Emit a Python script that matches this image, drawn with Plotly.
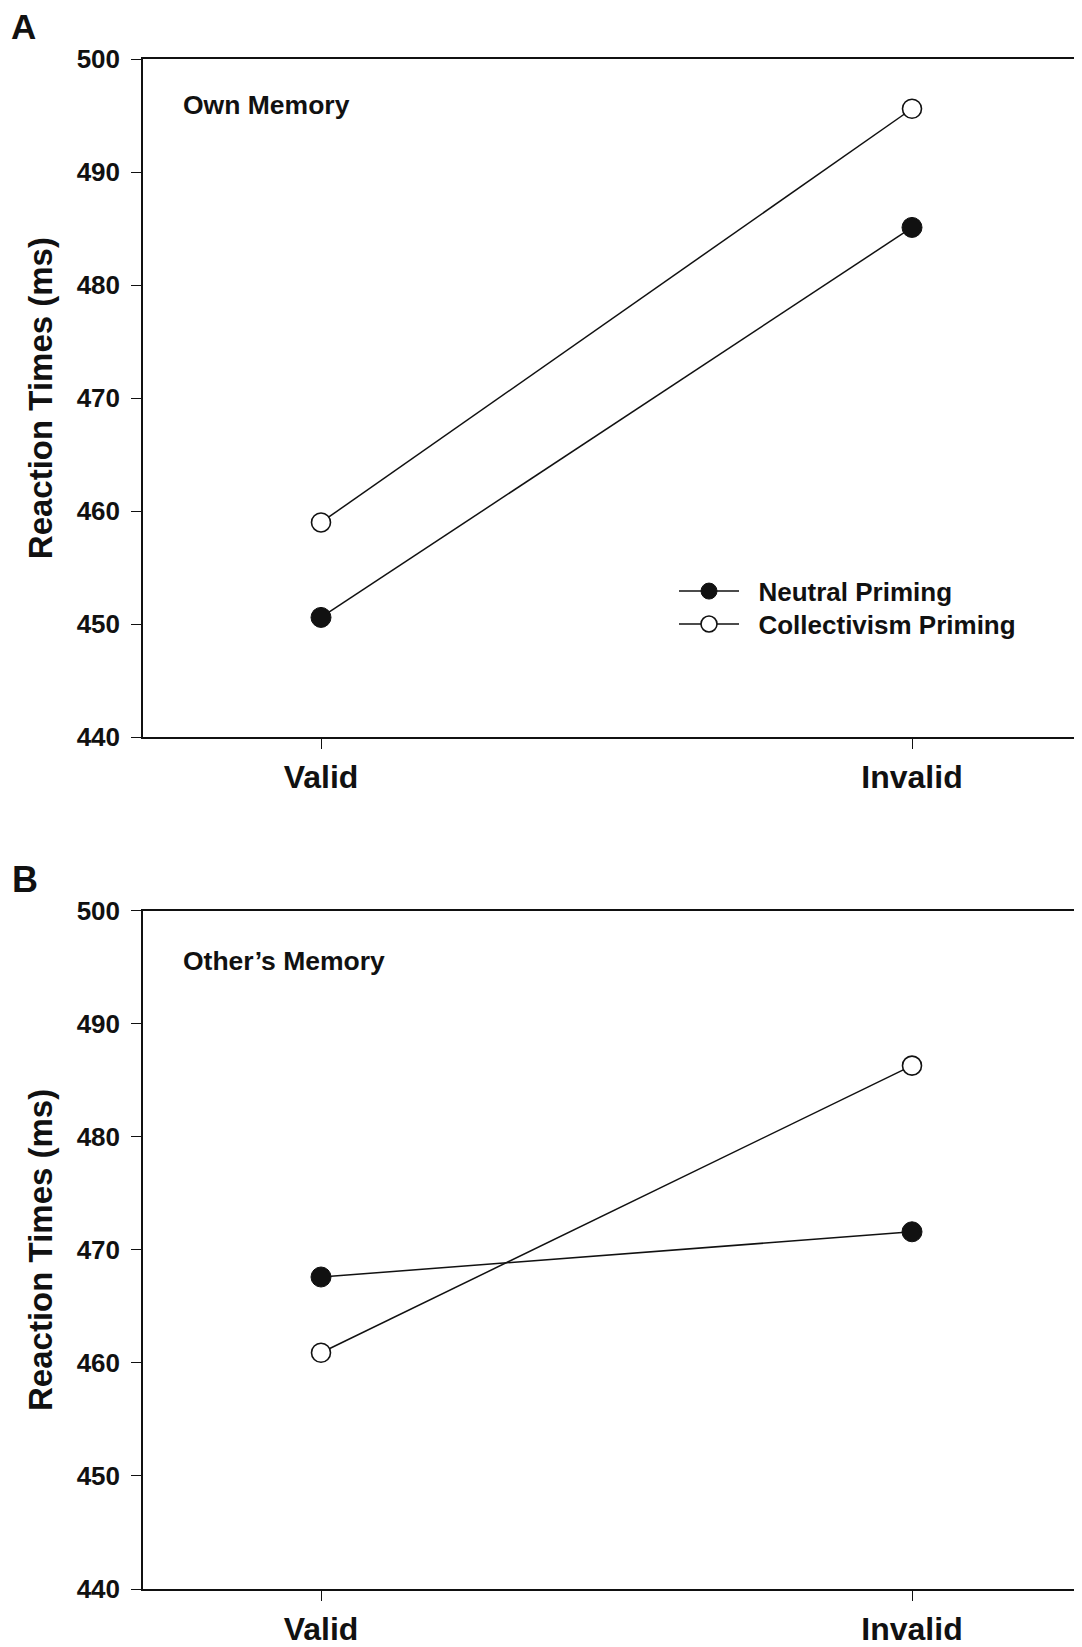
import plotly.graph_objects as go

conditions = ["Valid", "Invalid"]
cond_pos = [0, 1]
own_neutral = [450.6, 485.1]
own_collectivism = [459.0, 495.6]
other_neutral = [467.6, 471.6]
other_collectivism = [460.9, 486.3]
y_ticks = [440, 450, 460, 470, 480, 490, 500]
series_names = ["Neutral Priming", "Collectivism Priming"]

OFF = 8  # page body margin
W, H = 1082 - OFF, 1647 - OFF
PL, PR, PT, PB = 143, 1082, 59, 1593  # plot area in page pixels
L, T = PL - OFF, PT - OFF
R = W - (PR - OFF)
B = H - (PB - OFF)
FONT = "Liberation Sans, Arial, sans-serif"
INK = "#111111"


def py(p):
    return (PB - p) / (PB - PT)


def px(p):
    return (p - PL) / (PR - PL)


fig = go.Figure()


def add_pair(neutral, collect, xa, ya, show):
    fig.add_trace(go.Scatter(
        x=cond_pos, y=neutral, mode="lines+markers", name="\u00a0\u00a0" + series_names[0],
        line=dict(color=INK, width=1.5),
        marker=dict(size=20, color=INK, line=dict(color=INK, width=1)),
        xaxis=xa, yaxis=ya, showlegend=show, legend="legend"))
    fig.add_trace(go.Scatter(
        x=cond_pos, y=collect, mode="lines+markers", name="\u00a0\u00a0" + series_names[1],
        line=dict(color=INK, width=1.5),
        marker=dict(size=19, color="white", line=dict(color=INK, width=1.6)),
        xaxis=xa, yaxis=ya, showlegend=show, legend="legend2"))


add_pair(own_neutral, own_collectivism, "x", "y", True)
add_pair(other_neutral, other_collectivism, "x2", "y2", False)

xr = [(PL - 321) / 591, (PR - 321) / 591]
xcommon = dict(range=xr, tickvals=cond_pos, ticktext=conditions, showline=True, mirror=True,
               linecolor=INK, linewidth=1.5, ticks="outside", ticklen=10, tickcolor=INK,
               tickwidth=1.2, showgrid=False, zeroline=False, ticklabelstandoff=1,
               tickfont=dict(family=FONT, size=32, color=INK, weight="bold"))
ycommon = dict(range=[440, 500], tickvals=y_ticks, showline=True, mirror=False,
               linecolor=INK, linewidth=1.5, ticks="outside", ticklen=10, tickcolor=INK,
               tickwidth=1.2, showgrid=False, zeroline=False, ticklabelstandoff=6,
               tickfont=dict(family=FONT, size=26, color=INK, weight="bold"),
               title=dict(text="Reaction Times (ms)", standoff=14,
                          font=dict(family=FONT, size=33, color=INK, weight="bold")))

legend_common = dict(xanchor="left", yanchor="top", bgcolor="rgba(0,0,0,0)", itemwidth=60,
                     font=dict(family=FONT, size=26, color=INK, weight="bold"))

fig.update_layout(
    width=W, height=H,
    margin=dict(l=L, r=R, t=T, b=B),
    paper_bgcolor="white", plot_bgcolor="white",
    xaxis=dict(**xcommon, anchor="y", domain=[0, 1]),
    yaxis=dict(**ycommon, anchor="x", domain=[py(739), 1.0]),
    xaxis2=dict(**xcommon, anchor="y2", domain=[0, 1]),
    yaxis2=dict(**ycommon, anchor="x2", domain=[0.0, py(913)]),
    legend=dict(x=px(674), y=py(569), **legend_common),
    legend2=dict(x=px(674), y=py(602), **legend_common),
    showlegend=True,
)

ann_font = dict(family=FONT, color=INK, weight="bold")
fig.add_annotation(text="A", xref="paper", yref="paper", x=px(10), y=py(OFF - 2),
                   xanchor="left", yanchor="top", showarrow=False, borderpad=0,
                   font=dict(**ann_font, size=35))
fig.add_annotation(text="B", xref="paper", yref="paper", x=px(10), y=py(882),
                   xanchor="left", yanchor="middle", showarrow=False,
                   font=dict(**ann_font, size=36))
fig.add_annotation(text="Own Memory", xref="paper", yref="paper", x=px(181), y=py(105),
                   xanchor="left", yanchor="middle", showarrow=False,
                   font=dict(**ann_font, size=26.5))
fig.add_annotation(text="Other’s Memory", xref="paper", yref="paper", x=px(181), y=py(963),
                   xanchor="left", yanchor="middle", showarrow=False,
                   font=dict(**ann_font, size=26.5))

fig.write_html("out.html")
